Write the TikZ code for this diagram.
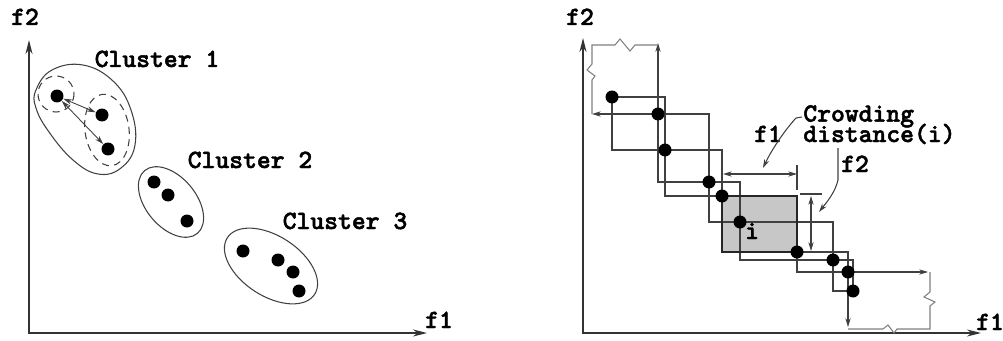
\documentclass[tikz,border=0pt]{standalone}
\usepackage{fontspec}
\newfontfamily\courb{lmmonolt10-bold.otf}[FakeBold=1.8]
\usetikzlibrary{arrows.meta}
\begin{document}
\lineskiplimit=-30pt\relax
\begin{tikzpicture}[x=0.02cm,y=-0.02cm,
  lbl/.style={font=\courb\fontsize{15}{11.6}\selectfont, inner sep=0pt, anchor=base},
  dot/.style={circle, fill=black, inner sep=0pt, minimum size=0.26cm},
  axis/.style={draw=black!80, line width=0.8pt, {Stealth[length=8pt,width=4pt]}-{Stealth[length=8pt,width=4pt]}},
  box/.style={draw=black!75, line width=0.6pt},
  bound/.style={draw=black!50, line width=0.6pt},
  tip/.style={-{Stealth[length=5pt,width=3pt]}},
  tips/.style={{Stealth[length=5pt,width=3pt]}-{Stealth[length=5pt,width=3pt]}},
  outline/.style={draw=black!75, line width=0.6pt},
]
\useasboundingbox (0,0) rectangle (1003,341);

%================ LEFT PANEL ================
\coordinate (lo) at (29,333);
\coordinate (ly) at (29,40);
\coordinate (lx) at (427,333);
\draw[axis] (ly) -- (lo) -- (lx);
\node[lbl] (lf2) at (25,25) {f2};
\node[lbl] (lf1) at (439,328) {f1};

% cluster 1
\node[lbl] (c1) at (157,67) {Cluster 1};
\draw[outline] plot[smooth cycle, tension=0.7] coordinates
  {(36,90) (52,70) (83,65) (113,81) (131,110) (135,145) (121,168) (98,174) (73,160) (49,132) (36,108)};
\draw[outline, dashed, dash pattern=on 4pt off 3pt] (56,94) circle [radius=18];
\draw[outline, dashed, dash pattern=on 4pt off 3pt, rotate around={8:(107,130)}] (107,130) ellipse [x radius=22, y radius=36];
\node[dot] (a1) at (57,96) {};
\node[dot] (a2) at (102,115) {};
\node[dot] (a3) at (108,149) {};
\draw[tips, draw=black!75, line width=0.5pt] (a1) -- (a2);
\draw[tips, draw=black!75, line width=0.5pt] (a1) -- (a3);

% cluster 2
\node[lbl] (c2) at (250,168) {Cluster 2};
\draw[outline, rotate around={-50:(171,202)}] (171,202) ellipse [x radius=41, y radius=25];
\node[dot] (b1) at (154,182) {};
\node[dot] (b2) at (168,195) {};
\node[dot] (b3) at (187,221) {};

% cluster 3
\node[lbl] (c3) at (345,229) {Cluster 3};
\draw[outline, rotate around={-33:(271,266)}] (271,266) ellipse [x radius=52, y radius=30];
\node[dot] (d1) at (243,251) {};
\node[dot] (d2) at (278,260) {};
\node[dot] (d3) at (293,272) {};
\node[dot] (d4) at (299,291) {};

%================ RIGHT PANEL ================
\coordinate (ro) at (583,333);
\coordinate (ry) at (583,38);
\coordinate (rx) at (981,333);
\draw[axis] (ry) -- (ro) -- (rx);
\node[lbl] (rf2) at (580,25) {f2};
\node[lbl] (rf1) at (990,330) {f1};

\coordinate (p1) at (612,97);
\coordinate (p2) at (658,114);
\coordinate (p3) at (665,150);
\coordinate (p4) at (709,182);
\coordinate (p5) at (722,196);
\coordinate (p6) at (740,222);
\coordinate (p7) at (797,252);
\coordinate (p8) at (833,260);
\coordinate (p9) at (848,272);
\coordinate (p10) at (853,291);

% shaded cuboid of i
\fill[black!22] (p5) rectangle (p7);

% cuboids
\draw[box] (p1) rectangle (p3);
\draw[box] (p2) rectangle (p4);
\draw[box] (p3) rectangle (p5);
\draw[box] (p4) rectangle (p6);
\draw[box] (p6) rectangle (p8);
\draw[box] (p7) rectangle (p9);
\draw[box] (p8) rectangle (p10);
\draw[draw=black!85, line width=1.1pt] (p5) rectangle (p7);

% extreme solutions (to infinity)
\coordinate (tu) at (658,43);
\coordinate (tl) at (592,114);
\coordinate (bd) at (848,327);
\coordinate (br) at (928,272);
\draw[box, tip] (p2) -- (tu);
\draw[box, tip] (p2) -- (tl);
\draw[box, tip] (p9) -- (bd);
\draw[box, tip] (p9) -- (br);
\draw[bound] (tl) -- (592,80) -- (595,76) -- (587,70) -- (592,64) -- (592,45)
  -- (615,45) -- (620,39) -- (630,51) -- (635,45) -- (tu |- 0,45);
\draw[bound] (br -| 930,0) -- (930,292) -- (924,297) -- (935,302) -- (930,306) -- (930,329)
  -- (897,329) -- (894,333) -- (888,325) -- (883,329) -- (bd |- 0,329);

% dots
\foreach \k in {1,...,10} { \node[dot] (q\k) at (p\k) {}; }

% labels and measurements
\node[lbl] (li) at (752,239) {i};
\node[lbl, anchor=base west, align=left] (cr) at (803,142) {Crowding\\distance(i)};
\node[lbl] (mf1) at (768,142) {f1};
\node[lbl] (mf2) at (855,172) {f2};

\coordinate (m1a) at (723,174);
\coordinate (m1b) at (797,174);
\draw[box, tips] (m1a) -- (m1b);
\draw[box] (797,165) -- (797,190);
\coordinate (m2a) at (811,196);
\coordinate (m2b) at (811,251);
\draw[box, tips] (m2a) -- (m2b);
\draw[box] (800,194) -- (822,194);

\coordinate (l1s) at (802,117);
\coordinate (l1e) at (763,168);
\draw[box, tip] (l1s) -- (796,118) .. controls (784,131) and (771,151) .. (l1e);
\coordinate (l2s) at (838,148);
\coordinate (l2e) at (819,212);
\draw[box, tip] (l2s) -- (838,180) .. controls (835,193) and (826,203) .. (l2e);
\end{tikzpicture}
\end{document}
